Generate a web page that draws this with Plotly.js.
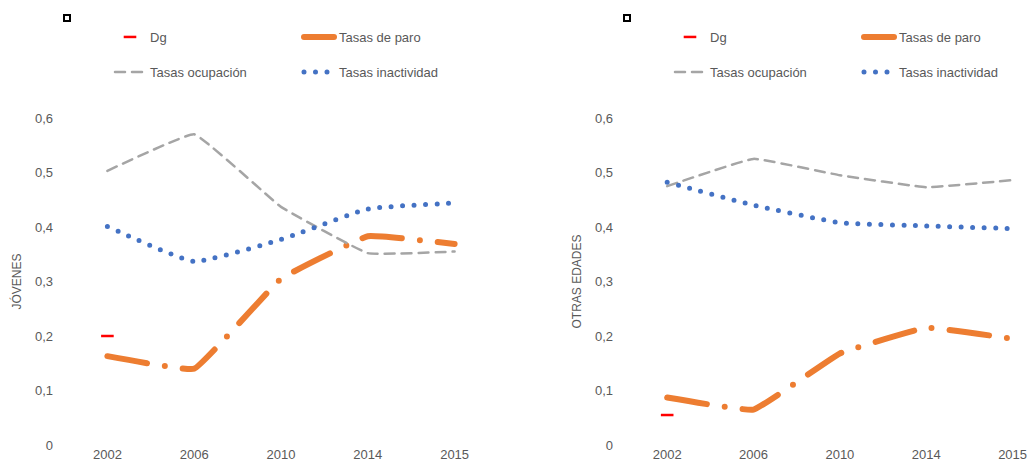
<!DOCTYPE html>
<html>
<head>
<meta charset="utf-8">
<script src="https://cdn.plot.ly/plotly-3.0.1.min.js"></script>
<style>
html,body{margin:0;padding:0;background:#fff;}
#chart{width:1029px;height:467px;}
path.js-line{stroke-linecap:round;}
</style>
</head>
<body>
<div id="chart"></div>
<script>
// ---- data ----
var years = ["2002", "2006", "2010", "2014", "2015"];
var yTickVals = [0, 0.1, 0.2, 0.3, 0.4, 0.5, 0.6];

// JÓVENES
var jovDgYears = ["2002"];
var jovDg = [0.2];
var jovParo = [0.163, 0.140, 0.305, 0.383, 0.369];
var jovOcupacion = [0.503, 0.570, 0.437, 0.352, 0.355];
var jovInactividad = [0.401, 0.337, 0.377, 0.433, 0.444];

// OTRAS EDADES
var otrDgYears = ["2002"];
var otrDg = [0.055];
var otrParo = [0.087, 0.065, 0.168, 0.215, 0.195];
var otrOcupacion = [0.475, 0.525, 0.495, 0.473, 0.486];
var otrInactividad = [0.482, 0.440, 0.408, 0.402, 0.397];

var names = ["Dg", "Tasas de paro", "Tasas ocupación", "Tasas inactividad"];

// ---- styles ----
var cRed = "#FF0000", cOrange = "#ED7D31", cGrey = "#A5A5A5", cBlue = "#4472C4";
var txt = "#595959";
var font = "Liberation Sans, Arial, sans-serif";

function makeTraces(dgX, dg, paro, ocu, ina, xa, ya, lgA, lgB) {
  return [
    {x: dgX, y: dg, name: names[0], type: "scatter", mode: "markers",
     marker: {symbol: "line-ew-open", size: 9, color: cRed, line: {color: cRed, width: 2.5}},
     xaxis: xa, yaxis: ya, legend: lgA, cliponaxis: false},
    {x: years, y: paro, name: names[1], type: "scatter", mode: "lines", legendwidth: 96,
     line: {color: cOrange, width: 6, dash: "40px,18px,0px,18px", shape: "spline", smoothing: 0.25},
     xaxis: xa, yaxis: ya, legend: lgA, cliponaxis: false},
    {x: years, y: ocu, name: names[2], type: "scatter", mode: "lines",
     line: {color: cGrey, width: 2.5, dash: "10px,7px", shape: "spline", smoothing: 0.25},
     xaxis: xa, yaxis: ya, legend: lgB, cliponaxis: false},
    {x: years, y: ina, name: names[3], type: "scatter", mode: "lines", legendwidth: 110,
     line: {color: cBlue, width: 5, dash: "0px,11.5px", shape: "spline", smoothing: 0.4},
     xaxis: xa, yaxis: ya, legend: lgB, cliponaxis: false}
  ];
}

var data = [].concat(
  makeTraces(jovDgYears, jovDg, jovParo, jovOcupacion, jovInactividad, "x", "y", "legend", "legend2"),
  makeTraces(otrDgYears, otrDg, otrParo, otrOcupacion, otrInactividad, "x2", "y2", "legend3", "legend4")
);

var W = 1029, H = 467;
function px(v){ return v / W; }
var yDom = [(H - 445) / H, (H - 118) / H];

function yAxis(title, anchor) {
  return {
    domain: yDom, range: [0, 0.6], tickvals: yTickVals, tickformat: ".1~f",
    showgrid: false, zeroline: false, showline: false, ticks: "",
    ticklabelstandoff: 10, automargin: false,
    tickfont: {family: font, size: 13, color: txt},
    title: {text: title, font: {family: font, size: 12, color: txt}, standoff: 10},
    anchor: anchor, fixedrange: true
  };
}
function xAxis(domain, range, anchor) {
  return {
    type: "category", domain: domain, range: range, automargin: false,
    showgrid: false, zeroline: false, showline: false, ticks: "",
    tickfont: {family: font, size: 13, color: txt},
    anchor: anchor, fixedrange: true
  };
}
function legend(x, yTop) {
  return {
    orientation: "h", x: x, y: 1 - yTop / H, xanchor: "left", yanchor: "middle",
    entrywidth: 144, entrywidthmode: "pixels",
    font: {family: font, size: 13, color: txt}, bgcolor: "rgba(0,0,0,0)",
    tracegroupgap: 0, itemclick: false, itemdoubleclick: false
  };
}

var layout = {
  width: W, height: H,
  margin: {l: 0, r: 0, t: 0, b: 0},
  paper_bgcolor: "#fff", plot_bgcolor: "#fff",
  separators: ",.",
  showlegend: true,
  xaxis: xAxis([px(64), px(498)], [-0.5, 4.5], "y"),
  yaxis: yAxis("JÓVENES", "x"),
  xaxis2: xAxis([px(624), 1], [-0.5, 4.19], "y2"),
  yaxis2: yAxis("OTRAS EDADES", "x2"),
  legend: legend(px(110), 37),
  legend2: legend(px(110), 72),
  legend3: legend(px(670), 37),
  legend4: legend(px(670), 72),
  shapes: [
    {type: "rect", xref: "paper", yref: "paper", x0: px(64), x1: px(70), y0: 1 - 21 / H, y1: 1 - 15 / H,
     line: {color: "#000", width: 2}, fillcolor: "rgba(0,0,0,0)"},
    {type: "rect", xref: "paper", yref: "paper", x0: px(624), x1: px(630), y0: 1 - 21 / H, y1: 1 - 15 / H,
     line: {color: "#000", width: 2}, fillcolor: "rgba(0,0,0,0)"}
  ]
};

Plotly.newPlot("chart", data, layout, {displayModeBar: false, staticPlot: true});
</script>
</body>
</html>
